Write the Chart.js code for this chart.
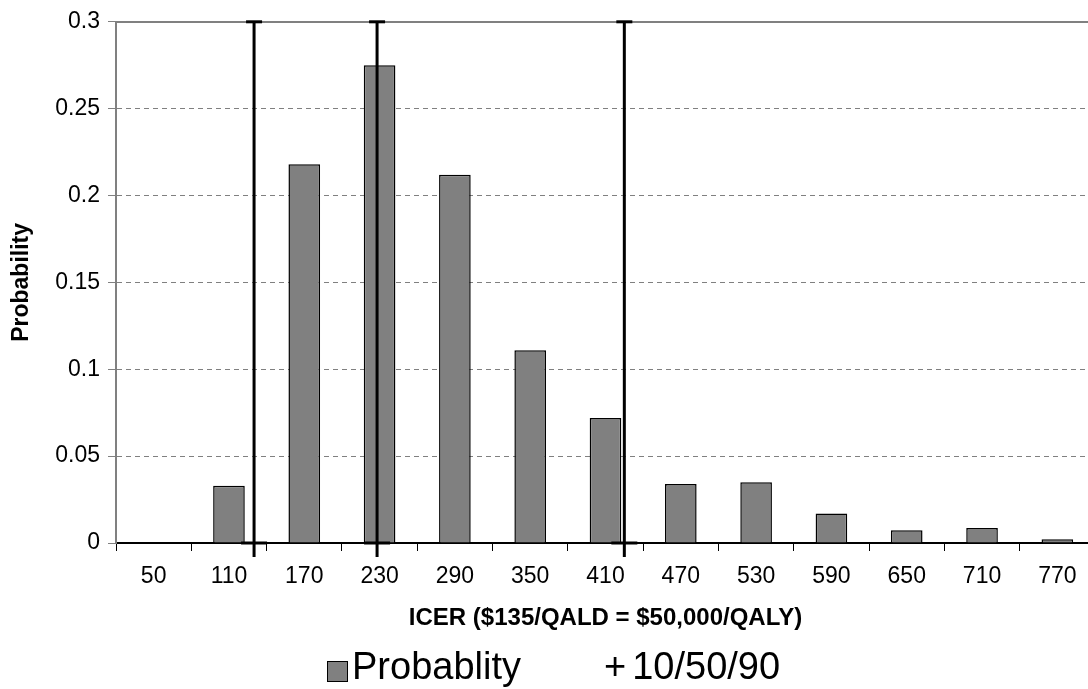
<!DOCTYPE html>
<html>
<head>
<meta charset="utf-8">
<script src="https://cdn.jsdelivr.net/npm/chart.js@4.4.0/dist/chart.umd.min.js"></script>
<style>
    html, body { margin: 0; padding: 0; background: #fff; overflow: hidden; }
    #wrap { position: relative; width: 1088px; height: 689px; overflow: hidden; }
    #chart { position: absolute; left: 0; top: 0; }
    .legend-item {
        position: absolute;
        top: 646px;
        font-family: "Liberation Sans", Arial, sans-serif;
        font-size: 38px;
        line-height: 40px;
        color: #000;
        white-space: nowrap;
    }
    .legend-box {
        display: inline-block;
        width: 19px;
        height: 19px;
        background: #808080;
        border: 1.5px solid #000;
        margin-right: 4px;
        vertical-align: -3px;
    }
    .legend-plus { font-weight: 300; margin-right: 6px; }
</style>
</head>
<body>
<div id="wrap">
    <canvas id="chart" width="1100" height="689"></canvas>
    <div class="legend-item" style="left:327px"><span class="legend-box"></span>Probablity</div>
    <div class="legend-item" style="left:604px"><span class="legend-plus">+</span>10/50/90</div>
</div>
<script>
const categories = ['50', '110', '170', '230', '290', '350', '410', '470', '530', '590', '650', '710', '770'];
const probability = [0, 0.033, 0.218, 0.275, 0.212, 0.111, 0.072, 0.034, 0.035, 0.017, 0.0074, 0.0087, 0.0022];

// 10th / 50th / 90th percentile of the ICER
const percentiles = [130, 228, 425];
const lineTop = 0.3;
const lineBottom = -0.008;

const yMax = 0.3;
const yStep = 0.05;

// linear axis that lines up with the category axis (half a step either side)
const icerMin = 50 - 30;
const icerMax = 770 + 30;

const percentilePoints = [];
percentiles.forEach(v => {
    percentilePoints.push({ x: v, y: lineBottom });
    percentilePoints.push({ x: v, y: 0 });
    percentilePoints.push({ x: v, y: lineTop });
    percentilePoints.push({ x: v, y: null });
});

const fontFamily = '"Liberation Sans", Arial, sans-serif';

new Chart(document.getElementById('chart').getContext('2d'), {
    type: 'bar',
    data: {
        labels: categories,
        datasets: [{
            type: 'line',
            label: '10/50/90',
            data: percentilePoints,
            xAxisID: 'x2',
            yAxisID: 'y',
            borderColor: '#000',
            borderWidth: 3,
            clip: false,
            order: 0,
            pointStyle: 'line',
            pointRadius: ctx => {
                const k = ctx.dataIndex % 4;
                if (k === 1) return 13;
                if (k === 2) return 8;
                return 0;
            },
            pointBorderColor: '#000',
            pointBackgroundColor: '#000',
            pointBorderWidth: 3
        }, {
            label: 'Probablity',
            data: probability,
            backgroundColor: '#808080',
            borderColor: '#000',
            borderWidth: 1.5,
            grouped: false,
            barPercentage: 0.42,
            categoryPercentage: 1,
            order: 1
        }]
    },
    options: {
        responsive: false,
        animation: false,
        layout: { padding: { top: 15, bottom: 56, left: 0, right: 5 } },
        plugins: {
            legend: { display: false },
            tooltip: { enabled: false }
        },
        scales: {
            x: {
                type: 'category',
                position: 'bottom',
                offset: true,
                grid: {
                    display: true,
                    drawOnChartArea: false,
                    drawTicks: true,
                    tickLength: 8,
                    color: '#000',
                    offset: true
                },
                border: { display: true, color: '#000', width: 2 },
                ticks: {
                    color: '#000',
                    font: { family: fontFamily, size: 23 },
                    padding: 12,
                    maxRotation: 0,
                    autoSkip: false
                },
                title: {
                    display: true,
                    text: 'ICER ($135/QALD = $50,000/QALY)',
                    color: '#000',
                    font: { family: fontFamily, size: 24, weight: 'bold' },
                    padding: { top: 0, bottom: 0 }
                },
                afterFit: s => { s.height = 90; }
            },
            x2: {
                type: 'linear',
                position: 'top',
                min: icerMin,
                max: icerMax,
                offset: false,
                grid: { display: false, offset: false },
                ticks: { display: false },
                border: { display: true, color: '#808080', width: 2 },
                afterFit: s => { s.height = 0; }
            },
            y: {
                min: 0,
                max: yMax,
                grid: {
                    color: '#808080',
                    lineWidth: 1,
                    drawTicks: true,
                    tickLength: 8,
                    tickColor: '#808080'
                },
                border: { display: true, color: '#808080', width: 2, dash: [5, 4] },
                ticks: {
                    stepSize: yStep,
                    color: '#000',
                    font: { family: fontFamily, size: 23 },
                    padding: 8,
                    callback: v => String(+v.toFixed(2))
                },
                title: {
                    display: true,
                    text: 'Probability',
                    color: '#000',
                    font: { family: fontFamily, size: 23, weight: 'bold' },
                    padding: { top: 8, bottom: 0 }
                },
                afterFit: s => { s.width = 116; }
            }
        }
    }
});
</script>
</body>
</html>
